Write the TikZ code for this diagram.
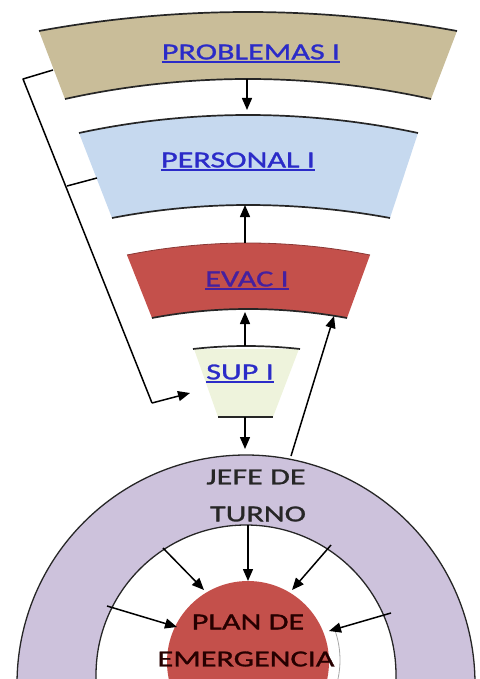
\documentclass[tikz,border=0pt]{standalone}
\usepackage{fontspec}
\usetikzlibrary{arrows.meta}
\newfontfamily\lblfont[FakeStretch=1.4,FakeBold=1.2]{Carlito}
\definecolor{probcol}{HTML}{C9BD99}
\definecolor{perscol}{HTML}{C6D9EF}
\definecolor{evaccol}{HTML}{C4504B}
\definecolor{supcol}{HTML}{EEF3DC}
\definecolor{ringcol}{HTML}{CDC2DC}
\definecolor{linkcol}{HTML}{2B2BC8}
\definecolor{visitcol}{HTML}{45209F}
\tikzset{
  lbl/.style={inner sep=0pt, font=\lblfont\fontsize{23}{25}\selectfont},
  arr/.style={-{Triangle[length=12pt,width=10pt]}, line width=1.5pt},
  edge/.style={line width=1.7pt, black!85},
  uline/.style={line width=1.8pt}
}
\begin{document}
\begin{tikzpicture}[x=1pt,y=-1pt]
\useasboundingbox (0,0) rectangle (479,679);
\clip (0,0) rectangle (479,679);
% bands
\fill[probcol] (39,31) parabola bend (248,12) (457,31) -- (431,99) parabola bend (248,79) (65,99) -- cycle;
\draw[edge] (39,31) parabola bend (248,12) (457,31);
\draw[edge] (65,99) parabola bend (248,79) (431,99);
\fill[perscol] (79,133) parabola bend (248,115) (418,133) -- (390,218) parabola bend (248,205) (112,218) -- cycle;
\draw[edge] (79,133) parabola bend (248,115) (418,133);
\draw[edge] (112,218) parabola bend (248,205) (390,218);
\fill[evaccol] (127,255) parabola bend (248,243) (370,255) -- (347,318) parabola bend (248,309) (152,318) -- cycle;
\draw[line width=0.8pt, evaccol!70!black] (127,255) parabola bend (248,243) (370,255);
\draw[edge] (152,318) parabola bend (248,309) (347,318);
\fill[supcol] (194,349) -- (299,349) -- (273,417) -- (218,417) -- cycle;
\draw[edge] (193,349) parabola bend (246,346) (300,349);
\draw[edge] (218,417) -- (273,417);
% ring and centre
\fill[ringcol, even odd rule] (246,684) circle (229) (246,675) circle (150);
\draw[edge, line width=1.3pt] (246,684) circle (229);
\draw[edge, line width=1.3pt] (246,675) circle (150);
\fill[evaccol] (248,662) circle (81);
\draw[black!35, line width=0.8pt] (250,660) ++(22:90) arc (22:-20:90);
% labels
\node[lbl, text=linkcol] (P1) at (251,52) {PROBLEMAS I};
\node[lbl, text=linkcol] (P2) at (238,160) {PERSONAL I};
\node[lbl, text=visitcol] (P3) at (247,279) {EVAC I};
\node[lbl, text=linkcol] (P4) at (240,372) {SUP I};
\node[lbl, text=black!85] (P5) at (256,477) {JEFE DE};
\node[lbl, text=black!85] (P6) at (258,514) {TURNO};
\node[lbl, text=black!85!red] (P7) at (248,622) {PLAN DE};
\node[lbl, text=black!85!red] (P8) at (246,659) {EMERGENCIA};
\draw[uline, linkcol] ([yshift=-3pt]P1.base west) -- ([yshift=-3pt]P1.base east);
\draw[uline, linkcol] ([yshift=-3pt]P2.base west) -- ([yshift=-3pt]P2.base east);
\draw[uline, visitcol] ([yshift=-3pt]P3.base west) -- ([yshift=-3pt]P3.base east);
\draw[uline, linkcol] ([yshift=-3pt]P4.base west) -- ([yshift=-3pt]P4.base east);
% connector ends
\coordinate (A1) at (247,79);  \coordinate (A2) at (247,110);
\coordinate (B1) at (245,243); \coordinate (B2) at (245,205);
\coordinate (C1) at (245,346); \coordinate (C2) at (245,312);
\coordinate (D1) at (245,417); \coordinate (D2) at (245,449);
\coordinate (E1) at (291,456); \coordinate (E2) at (334,316);
\coordinate (F1) at (53,70);   \coordinate (F2) at (23,79);
\coordinate (F3) at (152,403); \coordinate (F4) at (190,393);
\coordinate (G1) at (97,178);  \coordinate (G2) at (67,186);
\coordinate (H0) at (248,525); \coordinate (H1) at (248,581);
\coordinate (H2) at (163,548); \coordinate (H3) at (204,590);
\coordinate (H4) at (331,545); \coordinate (H5) at (292,590);
\coordinate (H6) at (107,606); \coordinate (H7) at (177,627);
\coordinate (H8) at (391,613); \coordinate (H9) at (329,631);
% arrows
\draw[arr] (A1) -- (A2);
\draw[arr] (B1) -- (B2);
\draw[arr] (C1) -- (C2);
\draw[arr] (D1) -- (D2);
\draw[arr] (E1) -- (E2);
\draw[line width=1.5pt, line join=round] (F1) -- (F2) -- (F3);
\draw[arr, line join=round] (F3) -- (F4);
\draw[line width=1.5pt] (G1) -- (G2);
\draw[arr] (H0) -- (H1);
\draw[arr] (H2) -- (H3);
\draw[arr] (H4) -- (H5);
\draw[arr] (H6) -- (H7);
\draw[arr] (H8) -- (H9);
\end{tikzpicture}
\end{document}
